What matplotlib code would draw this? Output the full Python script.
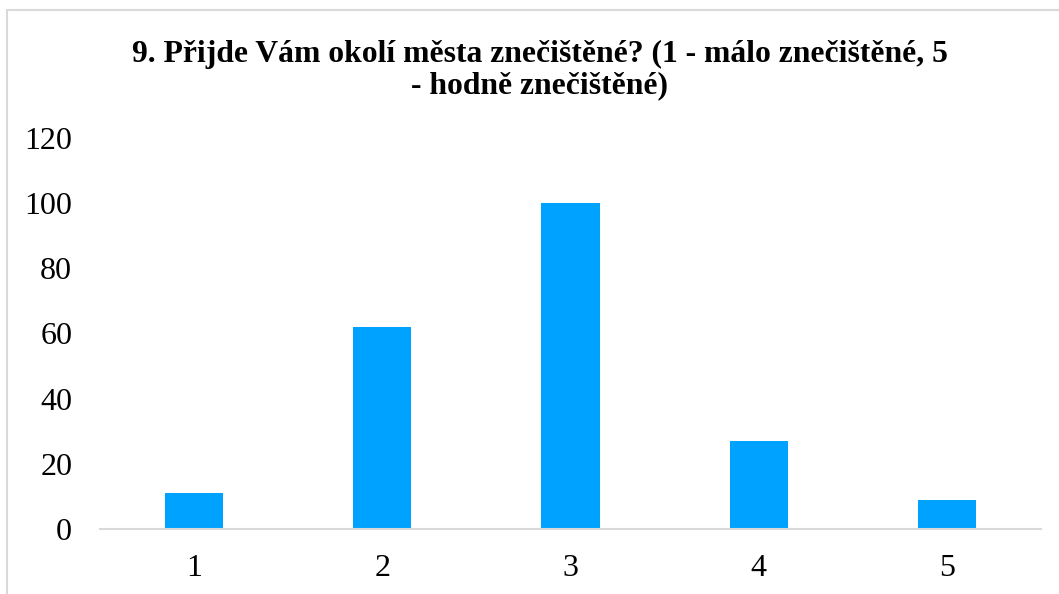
import matplotlib
matplotlib.use('Agg')
import matplotlib.pyplot as plt
from matplotlib.patches import Rectangle

# survey answers, scale 1-5
categories = ['1', '2', '3', '4', '5']
counts = [11, 62, 100, 27, 9]
title = '9. Přijde Vám okolí města znečištěné? (1 - málo znečištěné, 5\n- hodně znečištěné)'

plt.rcParams['font.family'] = ['Liberation Serif', 'DejaVu Serif']

W, H = 1059, 594
fig = plt.figure(figsize=(W / 100, H / 100), dpi=100)

# outer chart border (light grey, as in the office export)
fig.patches.append(Rectangle((7 / W, -0.1), 1.2, 1.1 - 10 / H, transform=fig.transFigure,
                             fill=False, edgecolor='#d9d9d9', linewidth=1.5))

ax = fig.add_axes([100 / W, 1 - 529 / H, (1041 - 100) / W, (529 - 138) / H])
x = range(len(categories))
ax.bar(x, counts, width=0.31, color='#00a2ff', zorder=2)

ax.set_xlim(-0.5, len(categories) - 0.5)
ax.set_ylim(0, 120)
ax.set_yticks(range(0, 121, 20))
ax.set_xticks(list(x))
ax.set_xticklabels(categories)
ax.tick_params(axis='both', length=0, labelsize=23, colors='black')
ax.tick_params(axis='y', pad=20)
ax.tick_params(axis='x', pad=18)

for s in ['top', 'right', 'left']:
    ax.spines[s].set_visible(False)
ax.spines['bottom'].set_color('#d9d9d9')
ax.spines['bottom'].set_linewidth(1.5)

fig.text(0.5 + 10 / W, 1 - 70 / H, title, ha='center', va='center',
         fontsize=22.8, fontweight='bold', linespacing=1.12)

fig.savefig('out.png', dpi=100)
